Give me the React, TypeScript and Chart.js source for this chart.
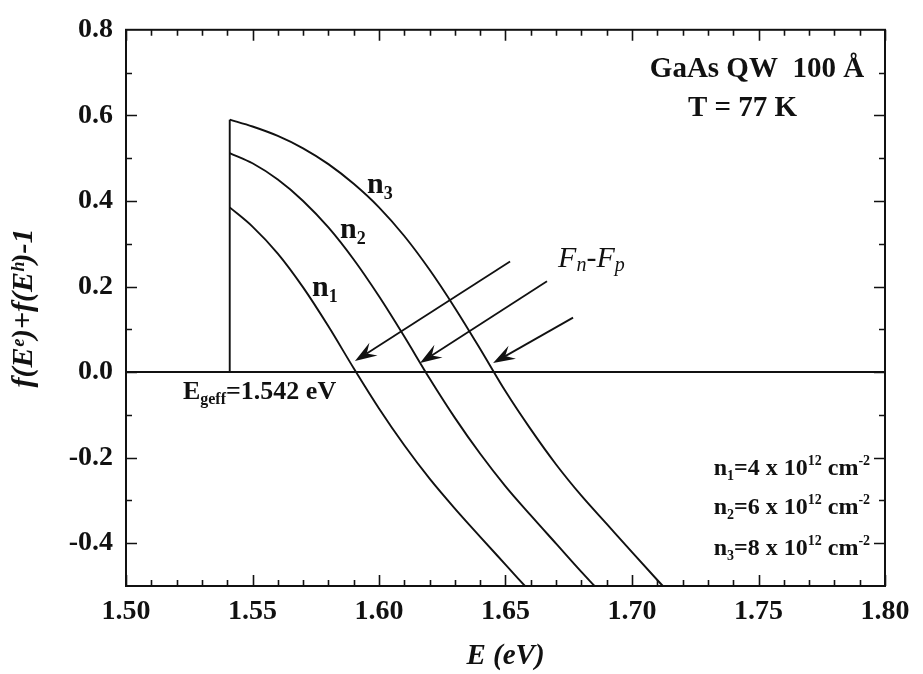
import React, { useEffect, useRef } from "react";
import { Chart, registerables } from "chart.js";

Chart.register(...registerables);

// ---------- data ----------
const xTickValues = [1.5, 1.55, 1.6, 1.65, 1.7, 1.75, 1.8];
const yTickValues = [-0.4, -0.2, 0.0, 0.2, 0.4, 0.6, 0.8];

const energyN1 = [1.541, 1.55, 1.56, 1.57, 1.58, 1.59, 1.6, 1.61, 1.62, 1.63, 1.64, 1.65, 1.6577];
const valueN1 = [0.385, 0.34, 0.277, 0.198, 0.107, 0.009, -0.085, -0.171, -0.249, -0.319, -0.385, -0.45, -0.5];

const energyN2 = [1.541, 1.55, 1.56, 1.57, 1.58, 1.59, 1.6, 1.61, 1.62, 1.63, 1.64, 1.65, 1.66, 1.67, 1.68, 1.6852];
const valueN2 = [0.512, 0.488, 0.45, 0.4, 0.338, 0.263, 0.177, 0.083, -0.015, -0.107, -0.191, -0.267, -0.335, -0.401, -0.467, -0.5];

const energyN3 = [1.541, 1.55, 1.56, 1.57, 1.58, 1.59, 1.6, 1.61, 1.62, 1.63, 1.64, 1.65, 1.66, 1.67, 1.68, 1.69, 1.7, 1.71, 1.7122];
const valueN3 = [0.59, 0.574, 0.552, 0.523, 0.486, 0.44, 0.385, 0.318, 0.239, 0.15, 0.054, -0.045, -0.134, -0.216, -0.289, -0.355, -0.421, -0.486, -0.5];

const edgeEnergy = [1.541, 1.541];
const edgeValue = [0.0, 0.59];

const zeroEnergy = [1.5, 1.8];
const zeroValue = [0.0, 0.0];

// arrows (Fn - Fp markers): start -> tip, in data units
const arrowStartE = [1.6518, 1.6664, 1.6767];
const arrowStartY = [0.2585, 0.2124, 0.1272];
const arrowTipE = [1.5905, 1.6162, 1.6451];
const arrowTipY = [0.0258, 0.0212, 0.0212];

// ---------- styling ----------
const SERIF = '"Liberation Serif", "Times New Roman", Times, serif';
const INK = "#111111";

const toPoints = (xs: number[], ys: number[]) => xs.map((x, i) => ({ x, y: ys[i] }));

type Seg = { t: string; f: string; dy?: number };

function drawRich(ctx: CanvasRenderingContext2D, segs: Seg[], x: number, y: number, align: "left" | "center" | "right") {
  let w = 0;
  for (const s of segs) {
    ctx.font = s.f;
    w += ctx.measureText(s.t).width;
  }
  let cx = align === "center" ? x - w / 2 : align === "right" ? x - w : x;
  ctx.textAlign = "left";
  ctx.textBaseline = "alphabetic";
  for (const s of segs) {
    ctx.font = s.f;
    ctx.fillText(s.t, cx, y + (s.dy || 0));
    cx += ctx.measureText(s.t).width;
  }
}

function drawArrow(ctx: CanvasRenderingContext2D, x1: number, y1: number, x2: number, y2: number) {
  const a = Math.atan2(y2 - y1, x2 - x1);
  const c = Math.cos(a);
  const s = Math.sin(a);
  const L = 22;
  const W = 7.5;
  const notch = 14;
  ctx.beginPath();
  ctx.moveTo(x1, y1);
  ctx.lineTo(x2 - notch * c, y2 - notch * s);
  ctx.stroke();
  ctx.beginPath();
  ctx.moveTo(x2, y2);
  ctx.lineTo(x2 - L * c + W * s, y2 - L * s - W * c);
  ctx.lineTo(x2 - notch * c, y2 - notch * s);
  ctx.lineTo(x2 - L * c - W * s, y2 - L * s + W * c);
  ctx.closePath();
  ctx.fill();
}

const framePlugin = {
  id: "frameAndNotes",
  afterDatasetsDraw(chart: any) {
    const { ctx, chartArea, scales } = chart;
    const { left, right, top, bottom } = chartArea;
    const xs = scales.x;
    const ys = scales.y;
    ctx.save();
    ctx.strokeStyle = INK;
    ctx.lineWidth = 2;
    ctx.strokeRect(left, top, right - left, bottom - top);

    ctx.lineWidth = 1.6;
    ctx.beginPath();
    for (let i = 0; i <= 30; i++) {
      const v = 1.5 + i * 0.01;
      const px = Math.round(xs.getPixelForValue(v)) + 0.5;
      const len = i % 5 === 0 ? 11 : 6;
      ctx.moveTo(px, bottom);
      ctx.lineTo(px, bottom - len);
      ctx.moveTo(px, top);
      ctx.lineTo(px, top + len);
    }
    for (let i = 1; i < 13; i++) {
      const v = -0.5 + i * 0.1;
      const py = Math.round(ys.getPixelForValue(v)) + 0.5;
      const len = (i - 5) % 2 === 0 ? 11 : 6;
      ctx.moveTo(left, py);
      ctx.lineTo(left + len, py);
      ctx.moveTo(right, py);
      ctx.lineTo(right - len, py);
    }
    ctx.stroke();

    // arrows
    ctx.fillStyle = INK;
    ctx.lineWidth = 1.8;
    for (let i = 0; i < arrowStartE.length; i++) {
      drawArrow(
        ctx,
        xs.getPixelForValue(arrowStartE[i]),
        ys.getPixelForValue(arrowStartY[i]),
        xs.getPixelForValue(arrowTipE[i]),
        ys.getPixelForValue(arrowTipY[i])
      );
    }

    const B = (n: number) => `bold ${n}px ${SERIF}`;
    const I = (n: number) => `italic ${n}px ${SERIF}`;
    const P = (e: number, y: number) => [xs.getPixelForValue(e), ys.getPixelForValue(y)];

    let p = P(1.7494, 0.6893);
    drawRich(ctx, [{ t: "GaAs QW  100 Å", f: B(29) }], p[0], p[1], "center");
    p = P(1.7437, 0.5994);
    drawRich(ctx, [{ t: "T = 77 K", f: B(29) }], p[0], p[1], "center");

    p = P(1.5953, 0.4196);
    drawRich(ctx, [{ t: "n", f: B(30) }, { t: "3", f: B(18), dy: 6 }], p[0], p[1], "left");
    p = P(1.5846, 0.3136);
    drawRich(ctx, [{ t: "n", f: B(30) }, { t: "2", f: B(18), dy: 6 }], p[0], p[1], "left");
    p = P(1.5735, 0.1776);
    drawRich(ctx, [{ t: "n", f: B(30) }, { t: "1", f: B(18), dy: 6 }], p[0], p[1], "left");

    p = P(1.6708, 0.2445);
    drawRich(
      ctx,
      [
        { t: "F", f: I(30) },
        { t: "n", f: I(20), dy: 4 },
        { t: "-F", f: I(30) },
        { t: "p", f: I(20), dy: 4 },
      ],
      p[0],
      p[1],
      "left"
    );

    p = P(1.5225, -0.062);
    drawRich(
      ctx,
      [
        { t: "E", f: B(26) },
        { t: "geff", f: B(16), dy: 5 },
        { t: "=1.542 eV", f: B(26) },
      ],
      p[0],
      p[1],
      "left"
    );

    const rows: [string, string, number][] = [
      ["1", "=4 x 10", -0.2397],
      ["2", "=6 x 10", -0.332],
      ["3", "=8 x 10", -0.4287],
    ];
    for (const r of rows) {
      p = P(1.7941, r[2]);
      drawRich(
        ctx,
        [
          { t: "n", f: B(24) },
          { t: r[0], f: B(14), dy: 5 },
          { t: r[1], f: B(24) },
          { t: "12", f: B(14), dy: -10 },
          { t: " cm", f: B(24) },
          { t: "-2", f: B(14), dy: -10 },
        ],
        p[0],
        p[1],
        "right"
      );
    }
    ctx.restore();
  },
};

export default function App() {
  const ref = useRef<HTMLCanvasElement>(null);
  useEffect(() => {
    const lineStyle = {
      borderColor: INK,
      borderWidth: 1.9,
      pointRadius: 0,
      fill: false,
      showLine: true,
    };
    const chart = new Chart(ref.current as HTMLCanvasElement, {
      type: "line",
      data: {
        datasets: [
          { ...lineStyle, label: "zero", data: toPoints(zeroEnergy, zeroValue), borderWidth: 2 },
          { ...lineStyle, label: "edge", data: toPoints(edgeEnergy, edgeValue) },
          { ...lineStyle, label: "n1", data: toPoints(energyN1, valueN1), cubicInterpolationMode: "monotone" },
          { ...lineStyle, label: "n2", data: toPoints(energyN2, valueN2), cubicInterpolationMode: "monotone" },
          { ...lineStyle, label: "n3", data: toPoints(energyN3, valueN3), cubicInterpolationMode: "monotone" },
        ] as any,
      },
      options: {
        animation: false,
        responsive: false,
        layout: { padding: { left: 0, right: 38, top: 22, bottom: 0 } },
        plugins: { legend: { display: false }, tooltip: { enabled: false } },
        scales: {
          x: {
            type: "linear",
            min: 1.5,
            max: 1.8,
            grid: { display: false, drawTicks: false },
            border: { display: false },
            afterBuildTicks: (s: any) => {
              s.ticks = xTickValues.map((v) => ({ value: v }));
            },
            afterFit: (s: any) => {
              s.height = 88;
            },
            ticks: {
              autoSkip: false,
              maxRotation: 0,
              padding: 9,
              color: INK,
              font: { family: SERIF, size: 28, weight: "bold" },
              callback: (v: any) => Number(v).toFixed(2),
            },
            title: {
              display: true,
              text: "E (eV)",
              color: INK,
              font: { family: SERIF, size: 29, style: "italic", weight: "bold" },
              padding: { top: 0, bottom: 0 },
            },
          },
          y: {
            type: "linear",
            min: -0.5,
            max: 0.8,
            grid: { display: false, drawTicks: false },
            border: { display: false },
            afterBuildTicks: (s: any) => {
              s.ticks = yTickValues.map((v) => ({ value: v }));
            },
            afterFit: (s: any) => {
              s.width = 126;
            },
            ticks: {
              autoSkip: false,
              padding: 13,
              color: INK,
              font: { family: SERIF, size: 28, weight: "bold" },
              callback: (v: any) => Number(v).toFixed(1),
            },
            title: {
              display: true,
              text: "f(Eᵉ)+f(Eʰ)-1",
              color: INK,
              font: { family: SERIF, size: 30, style: "italic", weight: "bold" },
              padding: { top: 6, bottom: 0 },
            },
          },
        },
      } as any,
      plugins: [framePlugin],
    });
    return () => chart.destroy();
  }, []);

  return (
    <div style={{ position: "absolute", left: 0, top: 0, width: 923, height: 674, background: "#ffffff" }}>
      <canvas ref={ref} width={923} height={674} style={{ display: "block", width: 923, height: 674 }} />
    </div>
  );
}
